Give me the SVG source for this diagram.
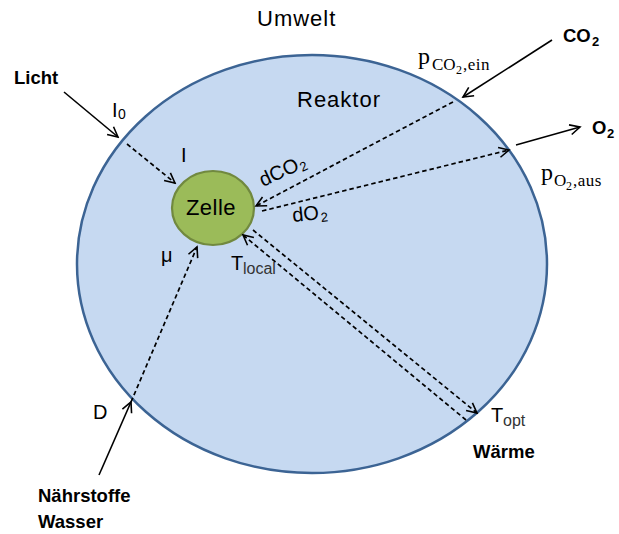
<svg xmlns="http://www.w3.org/2000/svg" width="619" height="534" viewBox="0 0 619 534">
  <defs>
    <marker id="arr" markerUnits="userSpaceOnUse" markerWidth="14" markerHeight="14" viewBox="-12 -7 14 14" refX="0" refY="0" orient="auto">
      <path d="M-10,-5 L0,0 L-10,5" fill="none" stroke="#000" stroke-width="1.6" stroke-dasharray="none"/>
    </marker>
  </defs>
  <style>
    text { font-family: "Liberation Sans", Arial, sans-serif; fill: #000; }
    .lbl { font-size: 20px; }
    .big { font-size: 22px; letter-spacing: 1px; }
    .bold { font-weight: bold; font-size: 18.5px; }
    .serif { font-family: "Liberation Serif", "DejaVu Serif", serif; }
    .sub { font-size: 16px; fill: #333; }
    .solid { stroke: #000; stroke-width: 1.6; fill: none; marker-end: url(#arr); }
    .dash { stroke: #000; stroke-width: 1.7; fill: none; stroke-dasharray: 4.5 3; marker-end: url(#arr); }
  </style>

  <rect width="619" height="534" fill="#fff"/>

  <!-- reactor vessel -->
  <g id="reaktor">
    <ellipse cx="312" cy="264" rx="235" ry="209" fill="#c6d9f1" stroke="#3c6494" stroke-width="2.5"/>
    <text class="big" x="297" y="107">Reaktor</text>
  </g>

  <!-- cell -->
  <g id="zelle">
    <ellipse cx="213" cy="208" rx="41" ry="37" fill="#9bbb59" stroke="#71893f" stroke-width="2.2"/>
    <text x="211" y="215" font-size="22" letter-spacing="0.5" text-anchor="middle">Zelle</text>
  </g>

  <g id="umwelt">
    <text class="big" x="257" y="26">Umwelt</text>
  </g>

  <!-- flows between environment, reactor and cell -->
  <g id="connectors">
    <path class="solid" d="M64,92 L118,137"/>
    <path class="dash" d="M127,144 L175,183"/>
    <path class="solid" d="M552,40 L463,97"/>
    <path class="dash" d="M453,102 L256,206"/>
    <path class="dash" d="M262,211 L509,150"/>
    <path class="solid" d="M516,145 L580,127"/>
    <path class="solid" d="M99,475 L131,402"/>
    <path class="dash" d="M131,402 L197,247"/>
    <path class="dash" d="M253,230 L477,413"/>
    <path class="dash" d="M466,420 L243,235"/>
  </g>

  <!-- light input -->
  <g id="licht">
    <text class="bold" x="14" y="84">Licht</text>
    <text class="lbl" x="112" y="117">I</text>
    <text x="118" y="119" font-size="14">0</text>
    <text class="lbl" x="181" y="162">I</text>
  </g>

  <!-- CO2 input -->
  <g id="co2">
    <text class="bold" x="563" y="42" font-size="19">CO</text>
    <text x="592" y="46" font-size="13" font-weight="bold">2</text>
    <text class="serif" x="418" y="64" font-size="24">p</text>
    <text class="serif" x="432" y="70" font-size="17">CO</text>
    <text class="serif" x="456" y="74" font-size="12">2</text>
    <text class="serif" x="463" y="70" font-size="17" letter-spacing="0.5">,ein</text>
    <g transform="translate(263,187) rotate(-25)">
      <text x="0" y="0" font-size="20">dCO</text>
      <text x="42" y="3" font-size="13" fill="#444">2</text>
    </g>
  </g>

  <!-- O2 output -->
  <g id="o2">
    <text class="bold" x="592" y="134" font-size="19">O</text>
    <text x="607" y="138" font-size="13" font-weight="bold">2</text>
    <text class="serif" x="541" y="180" font-size="24">p</text>
    <text class="serif" x="554" y="186" font-size="17">O</text>
    <text class="serif" x="566" y="190" font-size="12">2</text>
    <text class="serif" x="573" y="186" font-size="17" letter-spacing="0.5">,aus</text>
    <g transform="translate(293,222) rotate(-6)">
      <text x="0" y="0" font-size="20">dO</text>
      <text x="28" y="3" font-size="13" fill="#444">2</text>
    </g>
  </g>

  <!-- nutrients / dilution -->
  <g id="naehrstoffe">
    <text class="lbl" x="161" y="262">μ</text>
    <text class="lbl" x="93" y="419">D</text>
    <text class="bold" x="38" y="502">Nährstoffe</text>
    <text class="bold" x="38" y="528">Wasser</text>
  </g>

  <!-- heat exchange -->
  <g id="waerme">
    <text class="lbl" x="231" y="270">T</text>
    <text class="sub" x="243" y="274">local</text>
    <text class="lbl" x="491" y="422">T</text>
    <text class="sub" x="503" y="426">opt</text>
    <text class="bold" x="473" y="458">Wärme</text>
  </g>
</svg>
